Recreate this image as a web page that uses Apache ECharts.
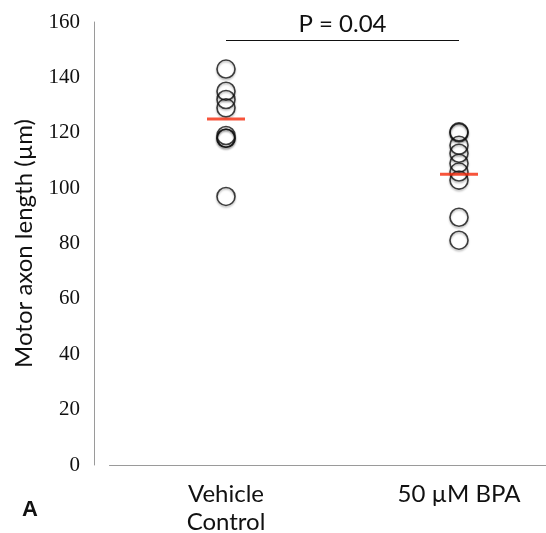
<!DOCTYPE html>
<html>
<head>
<meta charset="utf-8">
<script src="https://cdn.jsdelivr.net/npm/echarts@6/dist/echarts.min.js"></script>
<style>
html,body{margin:0;padding:0;background:#fff;}
#main{width:546px;height:533px;}
</style>
</head>
<body>
<div id="main"></div>
<script>
// 分组
var categories = ['Vehicle\nControl', '50 µM BPA'];
// 各组数据点 (µm)
var vehicleValues = [143, 135, 132, 129, 119, 118, 118, 97];
var bpaValues = [120.3, 120, 115.5, 112.6, 109, 105.8, 102.9, 89.5, 81.2];
// 均值横线
var meanValues = [125, 105];
// 显著性标注
var pText = 'P = 0.04';
var pLevel = 153.5;
var yTicks = [0, 20, 40, 60, 80, 100, 120, 140, 160];

var chart = echarts.init(document.getElementById('main'));

function toPoints(cat, vals){
    return vals.map(function(v){ return [cat, v]; });
}

var circleStyle = {
    color: 'rgba(0,0,0,0)',
    borderColor: '#111',
    borderWidth: 1.6,
    shadowColor: 'rgba(0,0,0,0.35)',
    shadowBlur: 2,
    shadowOffsetY: 1.5
};

var option = {
    animation: false,
    backgroundColor: '#fff',
    grid: {left: 109.5, width: 466, top: 22, bottom: 68, outerBoundsMode: 'none', containLabel: false},
    xAxis: {
        type: 'category',
        data: categories,
        axisLine: {lineStyle: {color: '#9a9a9a', width: 1}},
        axisTick: {show: false},
        axisLabel: {
            color: '#111', fontFamily: 'Lato', fontSize: 24,
            margin: 15, lineHeight: 28, align: 'center'
        },
        splitLine: {show: false}
    },
    yAxis: {
        type: 'value',
        min: yTicks[0], max: yTicks[yTicks.length - 1], interval: 20,
        offset: 15.5,
        name: 'Motor axon length (µm)',
        nameLocation: 'middle',
        nameGap: 58,
        nameTextStyle: {color: '#111', fontFamily: 'Lato', fontSize: 24},
        axisLine: {show: true, lineStyle: {color: '#9a9a9a', width: 1}},
        axisTick: {show: false},
        axisLabel: {color: '#111', fontFamily: 'Liberation Serif', fontSize: 21, margin: 14},
        splitLine: {show: false}
    },
    graphic: [{
        type: 'text', left: 22, top: 499,
        style: {text: 'A', fontFamily: 'Liberation Sans', fontWeight: 'bold', fontSize: 22, fill: '#111'}
    }],
    series: [
        {
            type: 'scatter', symbol: 'circle', symbolSize: 18,
            data: toPoints(categories[0], vehicleValues),
            itemStyle: circleStyle, z: 3
        },
        {
            type: 'scatter', symbol: 'circle', symbolSize: 18,
            data: toPoints(categories[1], bpaValues),
            itemStyle: circleStyle, z: 3
        },
        {
            type: 'scatter', symbol: 'rect', symbolSize: [38, 3],
            data: categories.map(function(c, i){ return [c, meanValues[i]]; }),
            itemStyle: {color: '#f5290a'}, z: 4
        },
        {
            type: 'line', symbol: 'none',
            data: [],
            markLine: {
                silent: true, symbol: 'none',
                lineStyle: {color: '#111', width: 1.2, type: 'solid'},
                label: {
                    show: true, position: 'middle', formatter: pText,
                    color: '#111', fontFamily: 'Lato', fontSize: 24, distance: 4
                },
                data: [[{coord: [categories[0], pLevel]}, {coord: [categories[1], pLevel]}]]
            }
        }
    ]
};
chart.setOption(option);
</script>
</body>
</html>
